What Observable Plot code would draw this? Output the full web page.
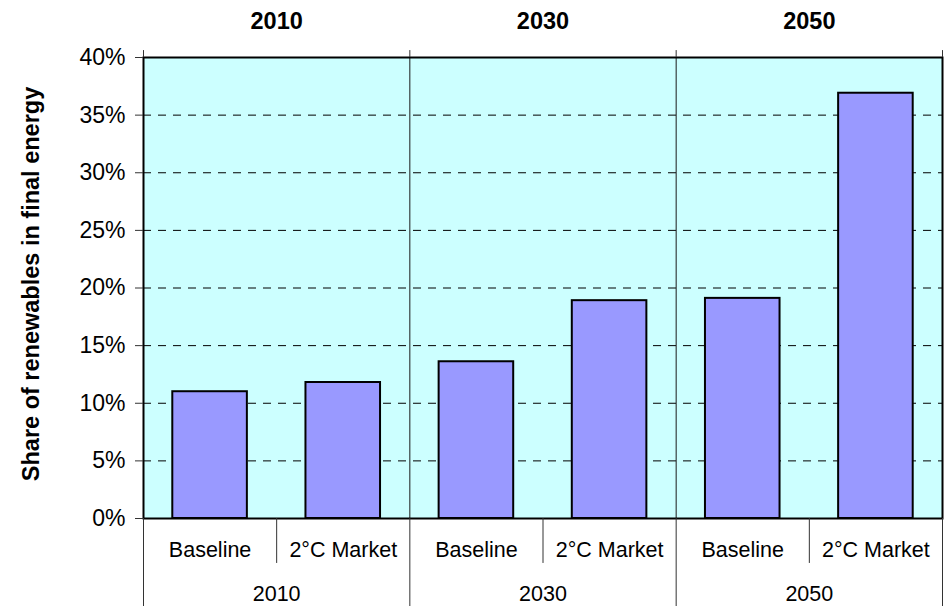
<!DOCTYPE html>
<html>
<head>
<meta charset="utf-8">
<script src="https://cdn.jsdelivr.net/npm/d3@7"></script>
<script src="https://cdn.jsdelivr.net/npm/@observablehq/plot@0.6"></script>
<style>
  html, body { margin: 0; padding: 0; background: #fff; }
  #chart svg { display: block; }
</style>
</head>
<body>
<div id="chart"></div>
<script>
const years = ["2010", "2030", "2050"];
const scenarios = ["Baseline", "2°C Market"];
const baselineShare = [11.0, 13.6, 19.1];
const marketShare = [11.8, 18.9, 36.9];
const yTicks = [0, 5, 10, 15, 20, 25, 30, 35, 40];
const yLabel = "Share of renewables in final energy";

// build table: one row per bar, positioned by its category index
const rows = [];
years.forEach((yr, g) => {
  rows.push({year: yr, scenario: scenarios[0], idx: g * 2, value: baselineShare[g]});
  rows.push({year: yr, scenario: scenarios[1], idx: g * 2 + 1, value: marketShare[g]});
});
const groups = years.map((yr, g) => ({year: yr, start: g * 2, mid: g * 2 + 1}));
const catBounds = d3.range(rows.length + 1);
const groupBounds = d3.range(0, rows.length + 1, 2);
const innerBounds = catBounds.filter(b => b % 2 === 1);

const font = "Arial, 'Liberation Sans', sans-serif";

const chart = Plot.plot({
  width: 950,
  height: 606,
  marginLeft: 143,
  marginRight: 8,
  marginTop: 57,
  marginBottom: 88,
  style: {fontFamily: font, background: "#fff", color: "#000"},
  x: {type: "linear", domain: [0, rows.length], axis: null, label: null},
  y: {domain: [0, 40], axis: null, label: null},
  marks: [
    Plot.frame({fill: "#CCFFFF"}),
    Plot.ruleY(yTicks.filter(t => t > 0 && t < 40), {stroke: "#000", strokeWidth: 1, strokeDasharray: "8,7"}),
    Plot.ruleX(groupBounds.filter(b => b > 0 && b < rows.length), {stroke: "#1a1a1a", strokeWidth: 1}),
    Plot.rectY(rows, {
      x1: d => d.idx + 0.22,
      x2: d => d.idx + 0.78,
      y1: 0,
      y2: "value",
      fill: "#9999FF",
      stroke: "#000",
      strokeWidth: 2
    }),
    Plot.frame({stroke: "#000", strokeWidth: 2}),
    // small ticks above the top border at group boundaries
    Plot.ruleX(groupBounds, {y1: 40, y2: 40.6, stroke: "#333", strokeWidth: 1}),
    // y axis
    Plot.axisY(yTicks, {
      label: null,
      tickSize: 8,
      tickPadding: 10,
      fontSize: 23,
      tickFormat: d => d + "%",
      stroke: "#333"
    }),
    Plot.text([yLabel], {
      frameAnchor: "left",
      textAnchor: "middle",
      lineAnchor: "middle",
      rotate: -90,
      dx: -112,
      dy: -4,
      fontSize: 23.5,
      fontWeight: "bold",
      fill: "#000"
    }),
    // top group labels
    Plot.text(groups, {
      x: "mid",
      text: "year",
      frameAnchor: "top",
      lineAnchor: "middle",
      dy: -36,
      fontSize: 23.5,
      fontWeight: "bold",
      fill: "#000"
    }),
    // bottom two-level category axis
    Plot.ruleX(groupBounds, {y1: 0, y2: -7.64, stroke: "#333", strokeWidth: 1}),
    Plot.ruleX(innerBounds, {y1: 0, y2: -3.9, stroke: "#333", strokeWidth: 1}),
    Plot.text(rows, {
      x: d => d.idx + 0.5,
      text: "scenario",
      frameAnchor: "bottom",
      lineAnchor: "middle",
      dy: 32,
      fontSize: 21.5,
      fill: "#000"
    }),
    Plot.text(groups, {
      x: "mid",
      text: "year",
      frameAnchor: "bottom",
      lineAnchor: "middle",
      dy: 75.5,
      fontSize: 21.5,
      fill: "#000"
    })
  ]
});
document.getElementById("chart").appendChild(chart);
</script>
</body>
</html>
